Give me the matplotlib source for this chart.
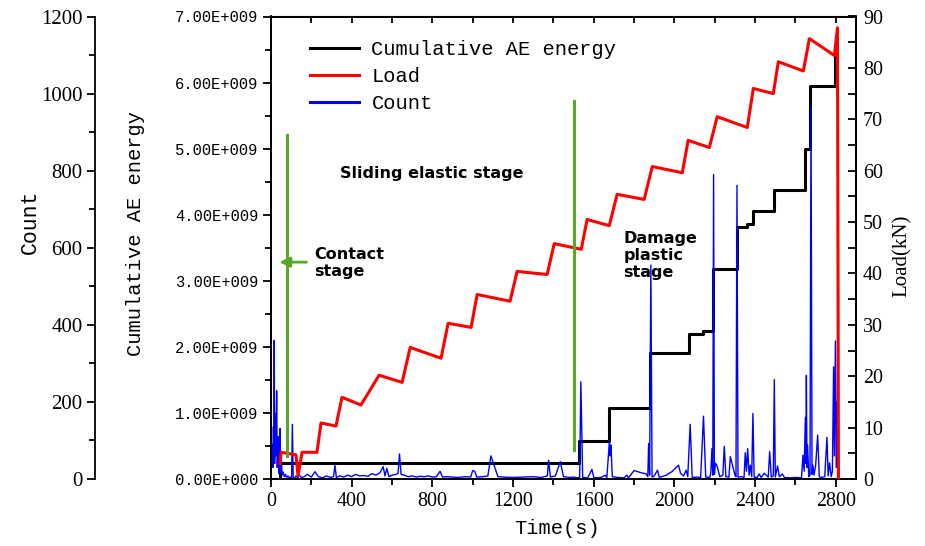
import matplotlib
matplotlib.use("Agg")
import matplotlib.pyplot as plt
from matplotlib.lines import Line2D
from matplotlib.ticker import MultipleLocator, FuncFormatter

# ---------------- data ----------------
# Load (kN) vs time (s)
load_t = [45, 50, 124, 134, 154, 228, 248, 322, 352, 446, 536, 650, 690, 843, 878, 992,
          1022, 1185, 1220, 1369, 1404, 1538, 1567, 1677, 1716, 1850, 1890, 2039, 2068,
          2173, 2212, 2361, 2391, 2490, 2515, 2639, 2669, 2793, 2808, 2811, 2813]
load_v = [3.0, 5.2, 4.7, 0.6, 5.2, 5.2, 10.9, 10.3, 15.9, 14.4, 20.2, 18.8, 25.6, 23.5,
          30.3, 29.5, 35.9, 34.6, 40.4, 39.8, 45.8, 44.7, 50.5, 49.3, 55.4, 54.4, 60.8,
          59.6, 65.9, 64.5, 70.5, 68.4, 76.0, 75.0, 81.2, 79.4, 85.7, 82.4, 87.8, 40.0, 0.0]

# Cumulative AE energy (step changes)
energy_t = [0, 45, 1528, 1677, 1880, 2073, 2143, 2192, 2312, 2361, 2391, 2495, 2649, 2674, 2798, 2802]
energy_v = [0.0, 0.24e9, 0.57e9, 1.07e9, 1.90e9, 2.20e9, 2.24e9, 3.18e9, 3.81e9, 3.86e9,
            4.06e9, 4.37e9, 5.00e9, 5.95e9, 6.44e9, 6.44e9]

# AE count vs time (rows aligned in both lists)
count_t = [0, 3, 6, 9, 12, 14, 16, 18, 21, 24,
           28, 31, 34, 36, 39, 42, 45, 48, 51, 55,
           60, 66, 72, 78, 84, 90, 96, 102, 106, 110,
           116, 124, 132, 140, 150,
           165, 180, 200, 218, 235, 255, 275, 295, 310, 317,
           324, 340, 360, 380, 400, 420, 440, 460, 480, 500,
           520, 540, 556, 565, 574, 585, 600, 620, 630, 637,
           645, 660, 680, 700, 720, 740, 760, 780, 800, 820,
           838, 850, 870, 900, 930, 960, 990, 1000, 1010, 1020,
           1050, 1075, 1090, 1125, 1150, 1200, 1250, 1300, 1340, 1370,
           1376, 1385, 1410, 1434, 1450, 1480, 1500, 1520, 1530,
           1536, 1545, 1570, 1591, 1600, 1620, 1640, 1657, 1665, 1678,
           1681, 1685, 1692, 1720, 1750, 1764, 1772, 1800, 1830, 1860,
           1868, 1872, 1877, 1883, 1889, 1900, 1916, 1925, 1960, 1990,
           2020, 2030, 2045, 2058, 2066, 2078, 2088, 2110, 2130, 2144,
           2155, 2175, 2180, 2186, 2190, 2194, 2198, 2203, 2210, 2225,
           2240, 2247, 2255, 2270, 2277, 2300, 2305, 2310, 2315, 2330,
           2345, 2351, 2357, 2363, 2370, 2376, 2383, 2389, 2395, 2410,
           2420, 2430, 2445, 2465, 2472, 2480, 2490, 2495, 2500, 2511,
           2520, 2535, 2545, 2570, 2600, 2630, 2637, 2643, 2649, 2652,
           2654, 2657, 2660, 2666, 2672, 2677, 2682, 2686, 2692, 2700,
           2710, 2718, 2730, 2745, 2756, 2762, 2769, 2777, 2783, 2789,
           2793, 2798, 2803, 2806, 2812]
count_v = [5, 60, 90, 30, 136, 50, 360, 40, 170, 60,
           229, 30, 80, 110, 15, 40, 131, 20, 60, 10,
           18, 6, 12, 4, 8, 3, 5, 2, 142, 5,
           2, 8, 3, 10, 4,
           6, 12, 5, 19, 6, 3, 8, 4, 6, 36,
           4, 8, 5, 10, 6, 12, 8, 9, 7, 14,
           10, 16, 32, 8, 28, 6, 10, 12, 15, 65,
           12, 10, 6, 8, 5, 7, 6, 8, 5, 6,
           20, 5, 6, 5, 4, 6, 5, 22, 20, 5,
           6, 8, 60, 6, 5, 4, 5, 6, 4, 8,
           49, 5, 8, 45, 6, 4, 5, 3, 4,
           252, 4, 3, 25, 4, 3, 5, 10, 4, 101,
           60, 88, 6, 4, 3, 10, 3, 22, 17, 13,
           6, 92, 10, 555, 5, 8, 23, 4, 10, 20,
           36, 15, 8, 23, 6, 142, 4, 5, 4, 163,
           5, 4, 15, 79, 10, 790, 12, 41, 36, 6,
           10, 85, 6, 5, 58, 10, 6, 762, 5, 6,
           4, 68, 20, 79, 10, 36, 6, 170, 5, 4,
           13, 4, 15, 5, 71, 5, 8, 258, 5, 34,
           6, 13, 4, 3, 4, 3, 62, 20, 160, 40,
           269, 30, 88, 6, 10, 968, 12, 36, 10, 36,
           114, 5, 4, 6, 108, 8, 42, 6, 20, 291,
           60, 358, 30, 200, 0]

# stage markers
green_line_t = [81, 1503]

# ---------------- figure ----------------
W, H, DPI = 925, 546, 100
fig = plt.figure(figsize=(W / DPI, H / DPI), dpi=DPI)
L0, R0, B0, T0 = 271, 856, 479, 16.5
ax = fig.add_axes([L0 / W, 1 - B0 / H, (R0 - L0) / W, (B0 - T0) / H])
ax_count = ax.twinx()
ax_load = ax.twinx()

serif = "Liberation Serif"
mono = "Liberation Mono"

def fx(px):
    return (px - L0) / (R0 - L0)

def fy(py):
    return (B0 - py) / (B0 - T0)

# energy (main axes)
ax.plot(energy_t, energy_v, color="black", lw=2.2, drawstyle="steps-post", zorder=3)
ax.set_xlim(0, 2900)
ax.set_ylim(0, 7e9)
ax.yaxis.set_major_locator(MultipleLocator(1e9))
ax.yaxis.set_minor_locator(MultipleLocator(0.5e9))
ax.xaxis.set_major_locator(MultipleLocator(400))
ax.xaxis.set_minor_locator(MultipleLocator(200))
ax.yaxis.set_major_formatter(FuncFormatter(
    lambda v, p: "0.00E+000" if v == 0 else f"{v/1e9:.2f}E+009"))
ax.tick_params(axis="y", which="both", direction="out", width=1.3, labelsize=11.2, pad=3)
ax.tick_params(axis="y", which="major", length=6)
ax.tick_params(axis="y", which="minor", length=4)
ax.tick_params(axis="x", which="both", direction="out", width=1.3, labelsize=14.4, pad=3)
ax.tick_params(axis="x", which="major", length=6)
ax.tick_params(axis="x", which="minor", length=4)
for lab in ax.get_yticklabels():
    lab.set_fontfamily(mono)
for lab in ax.get_xticklabels():
    lab.set_fontfamily(serif)
ax.set_ylabel("Cumulative AE energy", fontfamily=mono, fontsize=14.7)
ax.yaxis.set_label_coords(fx(145), fy(234))
ax.set_xlabel("Time(s)", fontfamily=mono, fontsize=14.7)
ax.xaxis.set_label_coords(fx(557), fy(519))
for s in ax.spines.values():
    s.set_linewidth(1.3)

# top spine inward ticks
ax_top = ax.secondary_xaxis("top")
ax_top.xaxis.set_major_locator(MultipleLocator(400))
ax_top.xaxis.set_minor_locator(MultipleLocator(200))
ax_top.tick_params(which="both", direction="in", length=5, width=1.3, labeltop=False)

# count axis (offset to the far left)
ax_count.plot(count_t, count_v, color="#0000FF", lw=1.0, zorder=2)
ax_count.set_ylim(0, 1200)
ax_count.spines["left"].set_position(("axes", fx(95)))
ax_count.spines["left"].set_visible(True)
ax_count.spines["left"].set_linewidth(1.3)
ax_count.spines["right"].set_visible(False)
ax_count.spines["top"].set_visible(False)
ax_count.spines["bottom"].set_visible(False)
ax_count.yaxis.set_ticks_position("left")
ax_count.yaxis.set_label_position("left")
ax_count.yaxis.set_major_locator(MultipleLocator(200))
ax_count.yaxis.set_minor_locator(MultipleLocator(100))
ax_count.tick_params(axis="y", which="both", direction="out", width=1.3, labelsize=15, pad=3)
ax_count.tick_params(axis="y", which="major", length=6)
ax_count.tick_params(axis="y", which="minor", length=4)
for lab in ax_count.get_yticklabels():
    lab.set_fontfamily(serif)
ax_count.set_ylabel("Count", fontfamily=mono, fontsize=15.5)
ax_count.yaxis.set_label_coords(fx(41), fy(222))

# load axis (right)
ax_load.plot(load_t, load_v, color="#FF0000", lw=2.2, zorder=4)
ax_load.set_ylim(0, 90)
ax_load.yaxis.set_major_locator(MultipleLocator(10))
ax_load.yaxis.set_minor_locator(MultipleLocator(5))
ax_load.tick_params(axis="y", which="both", direction="in", width=1.3, labelsize=14.4, pad=5)
ax_load.tick_params(axis="y", which="major", length=6)
ax_load.tick_params(axis="y", which="minor", length=6)
for lab in ax_load.get_yticklabels():
    lab.set_fontfamily(serif)
ax_load.set_ylabel("Load(kN)", fontfamily=serif, fontsize=15)
ax_load.yaxis.set_label_coords(fx(893), fy(256))
for s in ax_load.spines.values():
    s.set_linewidth(1.3)

# stage markers (load coordinates)
green = "#5AA728"
ax_load.plot([green_line_t[0]] * 2, [4.5, 67.0], color=green, lw=2.2, zorder=5)
ax_load.plot([green_line_t[1]] * 2, [5.6, 73.5], color=green, lw=2.2, zorder=5)
ax_load.annotate("", xy=(28, 42.2), xytext=(190, 42.2),
                 arrowprops=dict(arrowstyle="-|>,head_length=0.6,head_width=0.3",
                                 color=green, lw=2.0), zorder=5)
bold = dict(fontfamily="DejaVu Sans", fontweight="bold", fontsize=11.5, color="black")
ax_load.text(799, 59.4, "Sliding elastic stage", ha="center", va="center", **bold)
ax_load.text(213, 42.1, "Contact\nstage", ha="left", va="center", linespacing=1.15, **bold)
ax_load.text(1746, 43.5, "Damage\nplastic\nstage", ha="left", va="center", linespacing=1.15, **bold)

# legend
handles = [Line2D([], [], color="black", lw=2.2),
           Line2D([], [], color="#FF0000", lw=2.2),
           Line2D([], [], color="#0000FF", lw=2.2)]
leg = ax_load.legend(handles, ["Cumulative AE energy", "Load", "Count"],
                     loc="upper left", bbox_to_anchor=(fx(302), fy(32)),
                     frameon=False, prop=dict(family=mono, size=14.7),
                     handlelength=2.4, handletextpad=0.6, labelspacing=0.4, borderaxespad=0)

fig.savefig("out.png", dpi=DPI)
